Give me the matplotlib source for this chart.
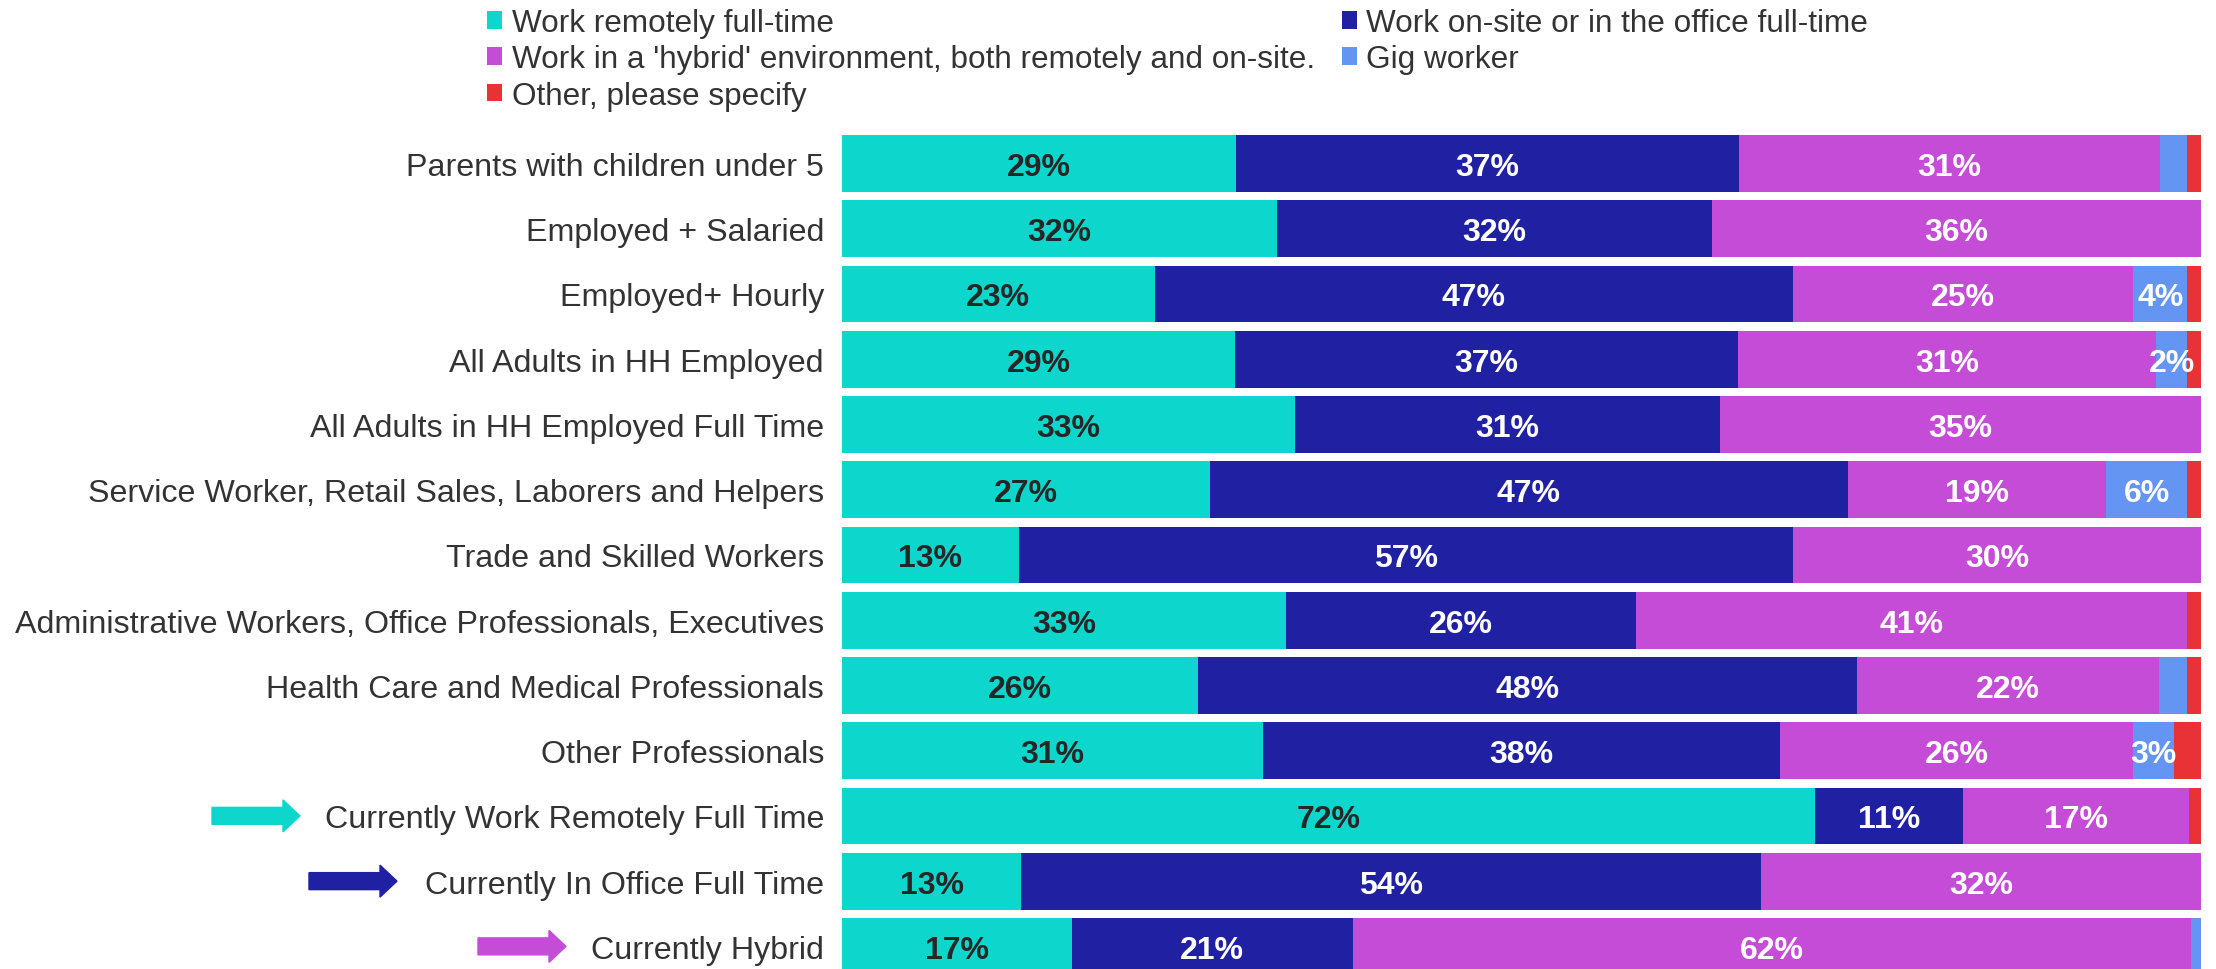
import numpy as np
import matplotlib
matplotlib.use("Agg")
import matplotlib.pyplot as plt
from matplotlib.patches import FancyArrow, Patch
from matplotlib import transforms

plt.rcParams['font.family'] = ['Liberation Sans', 'DejaVu Sans']

# Data (percent of respondents)
categories = [
    "Parents with children under 5",
    "Employed + Salaried",
    "Employed+ Hourly",
    "All Adults in HH Employed",
    "All Adults in HH Employed Full Time",
    "Service Worker, Retail Sales, Laborers and Helpers",
    "Trade and Skilled Workers",
    "Administrative Workers, Office Professionals, Executives",
    "Health Care and Medical Professionals",
    "Other Professionals",
    "Currently Work Remotely Full Time",
    "Currently In Office Full Time",
    "Currently Hybrid",
]
remote = [29.0, 32.0, 23.0, 28.9, 33.3, 27.1, 13.0, 32.7, 26.2, 31.0, 71.6, 13.2, 16.9]
onsite = [37.0, 32.0, 47.0, 37.0, 31.3, 46.9, 57.0, 25.7, 48.5, 38.0, 10.9, 54.4, 20.7]
hybrid = [31.0, 36.0, 25.0, 30.8, 35.4, 19.0, 30.0, 40.6, 22.2, 26.0, 16.6, 32.4, 61.7]
gig = [2.0, 0.0, 4.0, 2.3, 0.0, 6.0, 0.0, 0.0, 2.1, 3.0, 0.0, 0.0, 0.7]
other = [1.0, 0.0, 1.0, 1.0, 0.0, 1.0, 0.0, 1.0, 1.0, 2.0, 0.9, 0.0, 0.0]

series_names = [
    "Work remotely full-time",
    "Work on-site or in the office full-time",
    "Work in a 'hybrid' environment, both remotely and on-site.",
    "Gig worker",
    "Other, please specify",
]
series = [remote, onsite, hybrid, gig, other]
colors = ["#0DD7CD", "#2020A3", "#C44CD7", "#6495F3", "#E93236"]
label_colors = ["#262626", "white", "white", "white", "white"]

# rows that get a pointer arrow: colour and left edge (px)
arrow_rows = {
    "Currently Work Remotely Full Time": (colors[0], 212),
    "Currently In Office Full Time": (colors[1], 309),
    "Currently Hybrid": (colors[2], 478),
}

W, H = 2216, 970
fig = plt.figure(figsize=(W / 100, H / 100), dpi=100)
ax = fig.add_axes([842 / W, 0, (2201 - 842) / W, 1 - 136 / H])

y = np.arange(len(categories))
bar_h = 0.87
left = np.zeros(len(categories))
for vals, col, tcol in zip(series, colors, label_colors):
    vals = np.array(vals)
    ax.barh(y, vals, left=left, height=bar_h, color=col, edgecolor="none")
    for yi, (l, v) in enumerate(zip(left, vals)):
        if v >= 2.2:
            ax.text(l + v / 2, yi, f"{v:.0f}%", ha="center", va="center_baseline",
                    fontsize=23, fontweight="bold", color=tcol)
    left += vals

pitch = 65.25
ax.set_ylim(-bar_h / 2 + (970 - 136) / pitch, -bar_h / 2)
ax.set_xlim(0, 100)
ax.set_yticks(y)
ax.set_yticklabels(categories, fontsize=23.2, color="#333333")
ax.tick_params(axis="y", length=0, pad=13)
ax.set_xticks([])
for s in ax.spines.values():
    s.set_visible(False)

# arrows next to the last three labels
trans = transforms.blended_transform_factory(fig.transFigure, ax.transData)
px_y = 1 / pitch
for name, (col, x0) in arrow_rows.items():
    yi = categories.index(name)
    arr = FancyArrow(x0 / W, yi, 88 / W, 0, width=17 * px_y, head_width=32 * px_y,
                     head_length=17 / W, length_includes_head=True,
                     color=col, transform=trans, clip_on=False)
    fig.add_artist(arr)

handles = [Patch(facecolor=c, edgecolor="none") for c in colors]
order = [0, 2, 4, 1, 3]
fig.legend([handles[i] for i in order], [series_names[i] for i in order],
           loc="upper left", bbox_to_anchor=(487 / W, 1 - 9 / H), ncol=2,
           frameon=False, fontsize=22.7, handlelength=0.48, handleheight=0.48,
           handletextpad=0.3, columnspacing=0.85, labelspacing=0.2,
           borderpad=0, borderaxespad=0, labelcolor="#333333")

fig.savefig("out.png", dpi=100)
